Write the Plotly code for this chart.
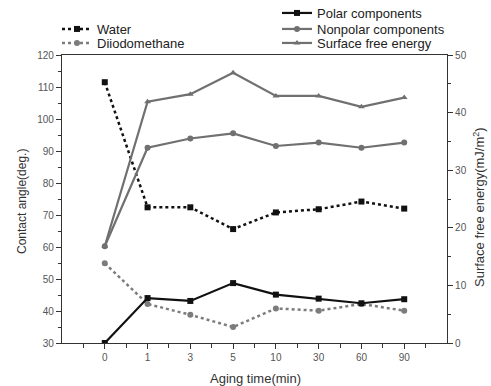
import plotly.graph_objects as go

categories = ["0", "1", "3", "5", "10", "30", "60", "90"]
water = [111.5, 72.4, 72.4, 65.6, 70.8, 71.8, 74.2, 72.0]
diiodomethane = [54.9, 42.2, 38.8, 35.0, 40.8, 40.1, 42.2, 40.1]
polar = [0.0, 7.8, 7.3, 10.4, 8.4, 7.7, 6.9, 7.6]
nonpolar = [16.8, 33.9, 35.5, 36.4, 34.2, 34.8, 33.9, 34.8]
surface = [16.8, 41.9, 43.2, 46.9, 42.9, 42.9, 41.0, 42.6]

xs = list(range(len(categories)))
BLACK = "#111111"
GRAY = "#707070"
LGRAY = "#7c7c7c"
FONT = "Liberation Sans, Arial, sans-serif"
W, H = 491, 386
ML, MR, MT, MB = 62, 44, 55, 43
PW, PH = W - ML - MR, H - MT - MB

fig = go.Figure()
fig.add_trace(go.Scatter(x=xs, y=water, name="Water", mode="lines+markers",
                         line=dict(color=BLACK, width=2.5, dash="dot"),
                         marker=dict(symbol="square", size=6, color=BLACK), legend="legend"))
fig.add_trace(go.Scatter(x=xs, y=diiodomethane, name="Diiodomethane", mode="lines+markers",
                         line=dict(color=LGRAY, width=2.5, dash="dot"),
                         marker=dict(symbol="circle", size=6, color=LGRAY), legend="legend2"))
fig.add_trace(go.Scatter(x=xs, y=polar, name="Polar components", mode="lines+markers",
                         line=dict(color=BLACK, width=2.2),
                         marker=dict(symbol="square", size=6, color=BLACK), yaxis="y2", legend="legend3"))
fig.add_trace(go.Scatter(x=xs, y=nonpolar, name="Nonpolar components", mode="lines+markers",
                         line=dict(color=GRAY, width=2.2),
                         marker=dict(symbol="circle", size=6, color=GRAY), yaxis="y2", legend="legend4"))
fig.add_trace(go.Scatter(x=xs, y=surface, name="Surface free energy", mode="lines+markers",
                         line=dict(color=GRAY, width=2.2),
                         marker=dict(symbol="triangle-up", size=6, color=GRAY), yaxis="y2", legend="legend5"))
for t in fig.data:
    t.showlegend = True

axis_common = dict(showline=True, linecolor="#333333", linewidth=1.2, ticks="outside",
                   ticklen=5, tickcolor="#333333", showgrid=False, zeroline=False,
                   tickfont=dict(size=10, color="#555555", family=FONT))


def leg(px_left, px_y):
    return dict(x=px_left / W, y=1 - px_y / H, xanchor="left", yanchor="middle",
                xref="container", yref="container", bgcolor="rgba(0,0,0,0)",
                font=dict(size=13, family=FONT, color="#222222"), itemwidth=30, visible=True)


def px(xp, yp):
    return (xp - ML) / PW, (H - MB - yp) / PH


ann = []
for text, (xp, yp), ang, fs in [("Contact angle(deg.)", (22, 202), -90, 12),
                                ("Surface free energy(mJ/m<sup>2</sup>)", (479, 207), -90, 13),
                                ("Aging time(min)", (256, 378), 0, 13)]:
    ax, ay = px(xp, yp)
    ann.append(dict(text=text, x=ax, y=ay, xref="paper", yref="paper", showarrow=False,
                    textangle=ang, xanchor="center", yanchor="middle",
                    font=dict(size=fs, family=FONT, color="#333333")))

fig.update_layout(
    width=W, height=H, showlegend=True,
    margin=dict(l=ML, r=MR, t=MT, b=MB, autoexpand=False),
    paper_bgcolor="white", plot_bgcolor="white",
    font=dict(family=FONT, color="#333333"),
    xaxis=dict(**axis_common, range=[-1, 8], tickmode="array", tickvals=xs, ticktext=categories,
               mirror=True,
               minor=dict(ticks="outside", ticklen=4, tickcolor="#333333",
                          tickmode="array", tickvals=[-0.5 + i for i in range(9)])),
    yaxis=dict(**axis_common, range=[30, 120], dtick=10,
               minor=dict(ticks="outside", ticklen=3, dtick=5, tickcolor="#333333")),
    yaxis2=dict(**axis_common, range=[0, 50], dtick=10, overlaying="y", side="right",
                minor=dict(ticks="outside", ticklen=3, dtick=5, tickcolor="#333333")),
    legend=leg(57, 29),
    legend2=leg(57, 43),
    legend3=leg(277, 13),
    legend4=leg(277, 29),
    legend5=leg(277, 43),
    annotations=ann,
)

fig.write_html("out.html", config={"displayModeBar": False},
               post_script="document.body.style.margin='0';")
